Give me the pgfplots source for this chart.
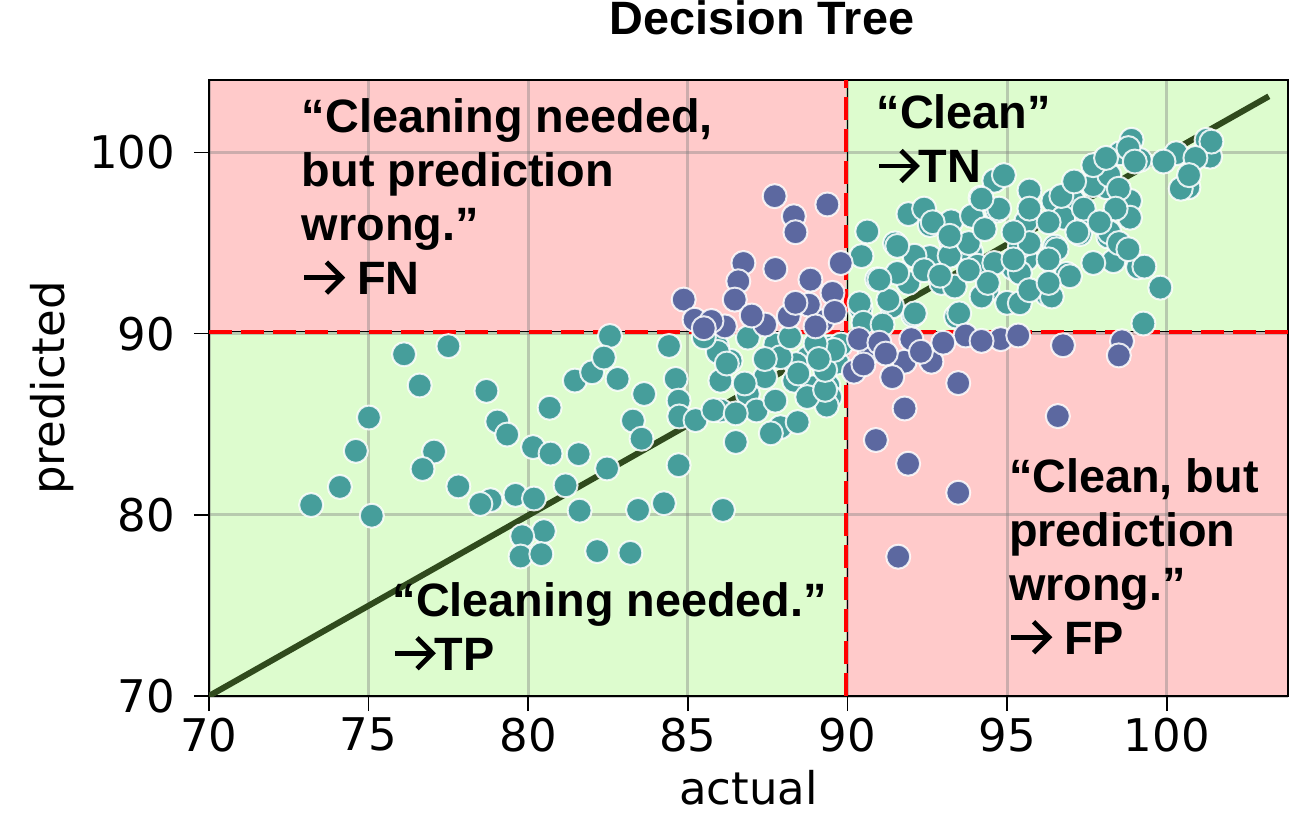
\documentclass[border=0pt]{standalone}
\usepackage{fontspec}
\setmainfont{DejaVu Sans}
\newfontfamily\annfont{Liberation Sans}
\usepackage{pgfplots}
\pgfplotsset{compat=1.18}
\usepackage{pgfplotstable}

\definecolor{bgGreen}{RGB}{221,252,206}
\definecolor{bgPink}{RGB}{255,202,202}
\definecolor{ptTeal}{RGB}{70,158,155}
\definecolor{ptBlue}{RGB}{92,104,160}
\definecolor{diagGreen}{RGB}{48,74,29}

% bold chevron arrow, as tall as a capital letter
\newcommand{\rarr}{\tikz[baseline=0pt, x=1em, y=1em]{%
  \draw[black, line width=2.4pt, solid] (0.03,0.36) -- (0.80,0.36);
  \draw[black, line width=2.4pt, solid, line join=miter, miter limit=10]
    (0.50,0.69) -- (0.83,0.36) -- (0.50,0.03);}}

% predictions that land in the correct quadrant (TP and TN)
\pgfplotstableread{
x y
76.11 88.86
77.50 89.31
76.60 87.14
75.01 85.37
74.60 83.53
74.10 81.54
73.20 80.54
75.10 79.95
77.05 83.49
76.69 82.53
77.81 81.57
78.82 80.81
78.50 80.60
78.69 86.84
79.03 85.15
79.34 84.43
80.15 83.74
80.70 83.38
79.60 81.10
80.18 80.90
81.17 81.63
80.67 85.91
81.46 87.41
82.00 87.87
81.58 83.35
81.61 80.23
80.49 79.10
79.81 78.82
79.76 77.70
80.41 77.83
82.16 78.00
83.20 77.90
82.56 89.87
82.37 88.68
82.80 87.50
83.63 86.67
84.41 89.32
84.62 87.50
84.71 86.30
84.73 85.43
83.28 85.20
83.55 84.20
82.47 82.56
83.44 80.27
84.25 80.64
86.10 80.27
84.71 82.74
86.50 84.02
85.91 89.32
86.34 88.50
87.44 88.59
86.02 87.40
86.88 86.67
87.15 85.76
86.02 85.76
87.90 84.84
88.44 85.12
87.74 86.30
88.33 87.40
88.76 88.68
89.46 89.23
89.68 88.40
89.40 87.13
88.92 87.04
88.39 88.32
87.74 89.40
86.88 89.78
87.42 87.60
89.80 89.40
89.46 86.50
89.35 86.03
85.24 85.23
85.80 85.78
86.50 85.60
87.60 84.50
88.74 86.50
89.30 86.90
88.46 87.80
87.90 88.70
89.30 88.00
89.58 89.10
89.00 89.45
85.94 88.99
86.22 88.35
86.78 87.25
87.41 88.60
88.20 89.80
89.10 88.60
85.50 89.80
90.62 95.64
91.49 94.98
90.93 93.00
90.41 91.40
91.91 92.80
92.58 96.00
92.58 94.23
92.06 91.03
93.40 90.94
92.94 92.80
93.25 95.08
93.87 94.50
94.17 97.50
94.07 93.75
94.38 92.40
95.00 91.70
94.69 96.80
95.20 93.60
95.60 96.20
91.91 96.60
93.25 96.20
91.40 91.50
94.60 98.44
98.90 100.70
101.25 100.70
100.30 99.96
100.68 98.08
101.36 99.77
99.16 99.59
98.54 99.96
97.90 99.40
98.12 98.08
98.85 97.33
97.07 97.33
96.45 97.33
95.70 97.90
96.76 96.40
98.17 95.36
98.64 94.50
96.50 94.80
96.87 93.30
99.10 93.66
99.80 92.54
96.24 92.17
99.27 90.56
95.60 94.10
95.40 94.80
98.33 94.00
98.85 96.40
97.50 96.20
97.28 95.50
90.44 94.28
90.38 91.68
91.28 91.86
92.11 91.12
93.36 92.60
93.50 91.12
94.20 92.05
94.60 93.90
95.40 91.68
95.40 93.35
96.40 92.05
96.55 94.66
96.97 93.17
96.30 96.15
97.40 96.90
97.70 98.20
98.20 98.75
98.80 100.24
99.00 99.50
98.50 98.00
98.40 96.90
98.20 95.60
98.50 95.00
99.30 93.70
98.80 94.66
99.90 99.50
100.44 98.00
101.40 100.60
100.90 99.70
100.70 98.75
97.20 95.60
97.90 96.15
96.30 94.10
95.70 95.00
95.20 95.60
95.70 96.90
96.70 97.60
97.10 98.40
97.70 99.30
98.10 99.70
94.40 92.80
95.70 92.40
97.70 93.90
96.30 92.80
95.20 94.10
93.20 94.30
92.10 94.30
91.56 93.35
92.40 93.50
92.90 93.20
93.80 95.00
92.40 96.90
93.90 96.50
94.75 96.90
91.56 94.84
92.67 96.15
91.00 92.98
94.30 95.77
94.20 97.45
94.90 98.75
93.20 95.40
93.80 93.50
90.50 90.60
91.10 90.50
}\correct

% predictions that land in the wrong quadrant (FN and FP)
\pgfplotstableread{
x y
87.72 97.59
89.37 97.13
88.32 96.48
88.37 95.60
86.74 93.90
87.74 93.57
86.58 92.89
86.47 91.88
84.87 91.88
85.21 90.77
86.16 90.40
87.42 90.50
88.16 90.96
88.84 92.98
89.53 92.25
89.21 90.68
89.79 93.90
88.79 91.60
88.37 91.70
85.74 90.70
89.60 91.20
89.00 90.40
87.00 91.00
85.50 90.30
91.79 88.45
92.63 88.45
93.47 87.27
91.79 85.87
90.89 84.13
91.90 82.82
93.47 81.22
91.59 77.69
96.59 85.45
96.75 89.36
98.60 89.58
98.50 88.80
90.70 89.00
90.20 87.90
91.40 87.60
93.70 89.90
94.80 89.70
95.35 89.90
90.36 89.70
91.00 89.50
92.00 89.70
90.50 88.30
91.20 88.90
93.00 89.50
94.20 89.60
92.30 89.00
}\wrong

\begin{document}
\begin{tikzpicture}
\begin{axis}[
  set layers,
  scale only axis,
  width=539.5pt, height=308pt,
  xmin=70, xmax=103.8, ymin=70, ymax=104,
  xtick={70,75,80,85,90,95,100},
  ytick={70,80,90,100},
  xtick pos=left, ytick pos=left,
  tick align=outside,
  major tick length=7.5pt,
  every tick/.style={black, line width=0.8pt},
  grid=major,
  grid style={gray, opacity=0.4, line width=1.5pt},
  axis line style={black, line width=1pt},
  /pgf/number format/assume math mode=true,
  tick label style={font=\fontsize{22.5}{27}\selectfont},
  yticklabel style={xshift=-6pt},
  xlabel={actual}, ylabel={predicted},
  label style={font=\fontsize{22.5}{27}\selectfont},
  xlabel style={at={(axis description cs:0.5,-0.12)}, anchor=north, inner sep=0pt},
  ylabel style={at={(axis description cs:-0.1455,0.5)}, anchor=center, inner sep=0pt},
  title={Decision Tree},
  title style={at={(axis description cs:0.5125,1)}, anchor=base, yshift=17pt,
    font=\annfont\bfseries\fontsize{23.4}{28}\selectfont},
]
% quadrant backgrounds
\addplot[on layer=axis background, fill=bgPink, draw=none]
  coordinates {(70,90.1) (89.95,90.1) (89.95,104) (70,104)};
\addplot[on layer=axis background, fill=bgGreen, draw=none]
  coordinates {(89.95,90.1) (103.8,90.1) (103.8,104) (89.95,104)};
\addplot[on layer=axis background, fill=bgGreen, draw=none]
  coordinates {(70,70) (89.95,70) (89.95,90.1) (70,90.1)};
\addplot[on layer=axis background, fill=bgPink, draw=none]
  coordinates {(89.95,70) (103.8,70) (103.8,90.1) (89.95,90.1)};

% scatter of predicted vs actual
\addplot[only marks, mark=*, mark size=6pt,
  mark options={fill=ptTeal, draw=white, draw opacity=0.85, line width=1pt}]
  table {\correct};
\addplot[only marks, mark=*, mark size=6pt,
  mark options={fill=ptBlue, draw=white, draw opacity=0.85, line width=1pt}]
  table {\wrong};

% identity line
\addplot[diagGreen, line width=3pt] coordinates {(70,70) (103.2,103.1)};

% threshold lines
\addplot[black, line width=0.6pt] coordinates {(90,70) (90,104)};
\addplot[black, line width=0.6pt] coordinates {(70,90.1) (103.8,90.1)};
\addplot[red, line width=2pt, dash pattern=on 11.5pt off 4.5pt] coordinates {(89.95,70) (89.95,104)};
\addplot[red, line width=2pt, dash pattern=on 11.5pt off 4.5pt] coordinates {(70,90.1) (103.8,90.1)};

% quadrant annotations
\node[anchor=north west, align=left, inner sep=0pt,
  font=\annfont\bfseries\fontsize{23.4}{27}\selectfont]
  at (axis cs:72.9,103.0) {“Cleaning needed,\\but prediction\\wrong.”\\\rarr\ FN};
\node[anchor=north west, align=left, inner sep=0pt,
  font=\annfont\bfseries\fontsize{23.4}{27}\selectfont]
  at (axis cs:90.9,103.2) {“Clean”\\\rarr TN};
\node[anchor=north west, align=left, inner sep=0pt,
  font=\annfont\bfseries\fontsize{23.4}{27}\selectfont]
  at (axis cs:75.74,76.3) {“Cleaning needed.”\\\rarr TP};
\node[anchor=north west, align=left, inner sep=0pt,
  font=\annfont\bfseries\fontsize{23.4}{27}\selectfont]
  at (axis cs:95.05,83.15) {“Clean, but\\prediction\\wrong.”\\\rarr\ FP};
\end{axis}
\pgfresetboundingbox
\useasboundingbox (-104.5pt,-68pt) rectangle (543.5pt,348pt);
\end{tikzpicture}
\end{document}
